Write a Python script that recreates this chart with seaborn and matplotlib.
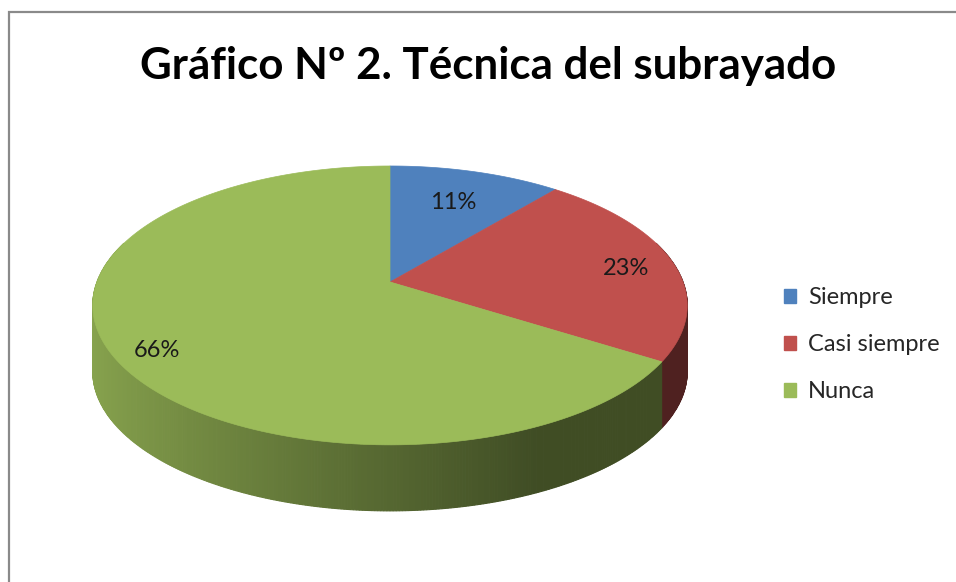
import numpy as np
import matplotlib
matplotlib.use("Agg")
import matplotlib.pyplot as plt
import seaborn as sns
from matplotlib.patches import Patch

# ---- data ----
categories = ["Siempre", "Casi siempre", "Nunca"]
values = [11, 23, 66]
pct_labels = ["11%", "23%", "66%"]
title = "Gráfico Nº 2. Técnica del subrayado"

sns.set_theme(style="white")
plt.rcParams["font.family"] = ["Lato", "DejaVu Sans"]

colors = ["#4F81BD", "#C0504D", "#9BBB59"]

# ---- geometry (pixel layout) ----
W, H = 956, 582
CX, CY = 390.0, 282.0     # pie apex
A, B = 293.0, 135.5       # projected radii
K = 0.168                 # perspective factor
D = 66.0                  # thickness

fig = plt.figure(figsize=(W / 100, H / 100), dpi=100)
ax = fig.add_axes([0, 0, 1, 1])
ax.set_xlim(0, W)
ax.set_ylim(H, 0)
ax.axis("off")


def proj(theta_deg, r=1.0, depth=0.0):
    t = np.radians(theta_deg)
    u = r * np.cos(t)
    v = r * np.sin(t)
    w = 1 + K * v
    return CX + A * u / w, CY - B * v / w + depth


fracs = np.array(values, dtype=float) / np.sum(values)
starts = 90 - 360 * np.concatenate([[0], np.cumsum(fracs)[:-1]])
ends = starts - 360 * fracs


def slice_of(theta):
    for i, (s, e) in enumerate(zip(starts, ends)):
        th = theta
        while th > s:
            th -= 360
        while th <= e:
            th += 360
        if e < th <= s:
            return i
    return 0


def shade(hexc, f):
    c = np.array(matplotlib.colors.to_rgb(hexc))
    return tuple(np.clip(c * f, 0, 1))


# ---- side (extrusion) ----
step = 0.5
segs = []
for a in np.arange(0, 360, step):
    b = a + step
    m = (a + b) / 2
    if np.sin(np.radians(m)) > 0.3:
        continue
    segs.append((np.sin(np.radians(m)), a, b, m))
segs.sort(key=lambda s: -s[0])
for _, a, b, m in segs:
    idx = slice_of(m)
    f = max(0.41, 0.55 - 0.33 * np.cos(np.radians(m)))
    col = shade(colors[idx], f)
    xa, ya = proj(a)
    xb, yb = proj(b)
    xa2, ya2 = proj(a, depth=D)
    xb2, yb2 = proj(b, depth=D)
    ax.fill([xa, xb, xb2, xa2], [ya, yb, yb2, ya2], color=col, lw=0.8,
            edgecolor=col, antialiased=True)

# ---- top face ----
for i in range(len(values)):
    th = np.linspace(starts[i], ends[i], 200)
    xs, ys = proj(th)
    ax.fill(np.concatenate([[CX], xs]), np.concatenate([[CY], ys]),
            color=colors[i], lw=0.5, edgecolor=colors[i])

# ---- percentage labels ----
label_r = [0.66, 0.82, 0.86]
label_dy = [-3, 4, 8]
for i, lab in enumerate(pct_labels):
    mid = (starts[i] + ends[i]) / 2
    lx, ly = proj(mid, r=label_r[i])
    ax.text(lx + 4, ly + label_dy[i], lab, ha="center", va="center",
            fontsize=17, color="#1a1a1a")

# ---- title ----
ax.text(488, 66, title, ha="center", va="center", fontsize=31.6,
        fontweight="bold", color="black")

# ---- border ----
ax.plot([9, 9, W + 5], [H + 5, 12, 12], color="#8a8a8a", lw=1.6,
        solid_joinstyle="miter")

# ---- legend ----
handles = [Patch(facecolor=c, edgecolor=c) for c in colors]
fig.legend(handles, categories, loc="upper left",
           bbox_to_anchor=(775 / W, 1 - 278 / H), frameon=False,
           fontsize=17, handlelength=0.5, handleheight=0.5,
           handletextpad=0.5, labelspacing=1.1, borderaxespad=0)

fig.savefig("out.png", dpi=100)
